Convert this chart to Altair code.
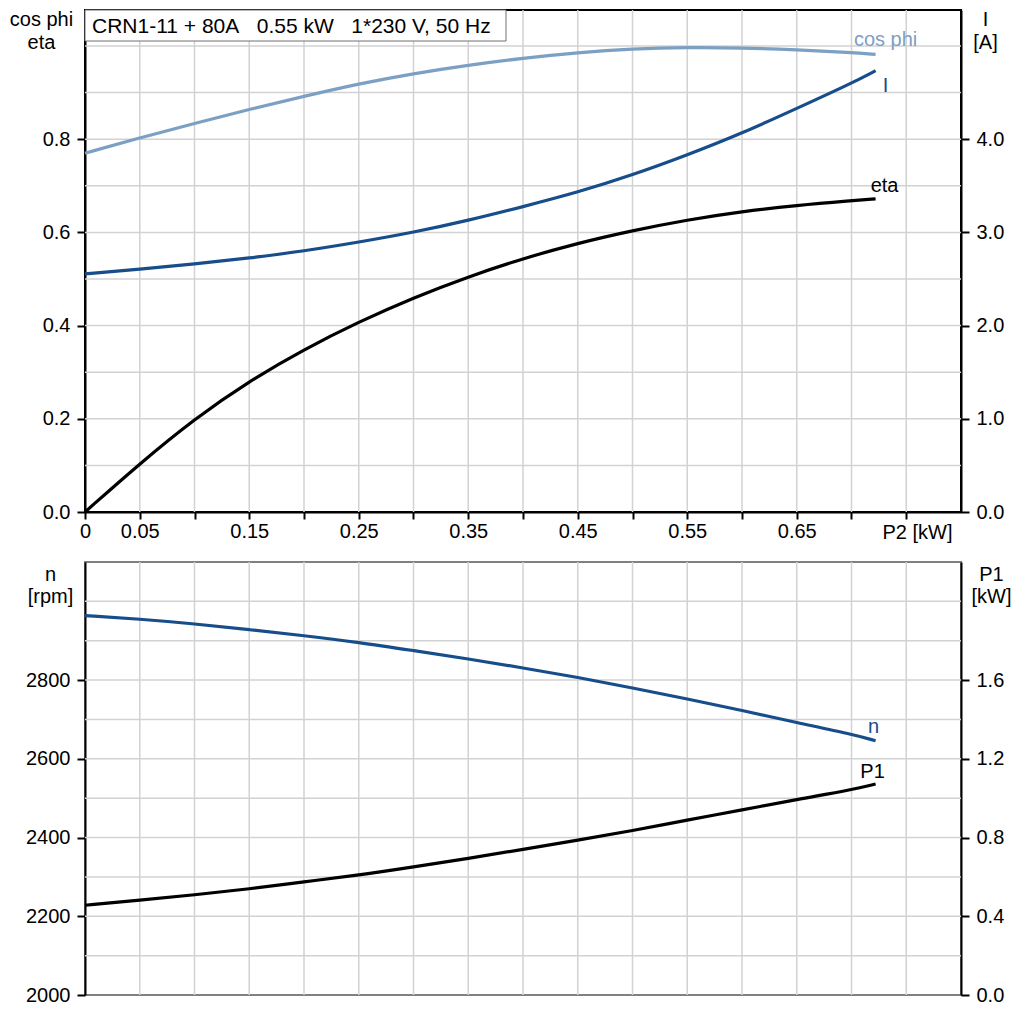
import altair as alt
import pandas as pd

# ---------------- data ----------------
P2 = [0.0, 0.05, 0.10, 0.15, 0.20, 0.25, 0.30, 0.35, 0.40, 0.45, 0.50, 0.55, 0.60, 0.65, 0.70, 0.722]
COS_PHI = [0.770, 0.803, 0.834, 0.864, 0.892, 0.919, 0.941, 0.959, 0.974, 0.986, 0.994, 0.997, 0.996, 0.992, 0.986, 0.982]
ETA = [0.000, 0.104, 0.200, 0.281, 0.349, 0.408, 0.460, 0.505, 0.544, 0.577, 0.604, 0.627, 0.645, 0.658, 0.668, 0.672]
I_A = [2.554, 2.604, 2.660, 2.725, 2.800, 2.895, 3.000, 3.128, 3.276, 3.430, 3.616, 3.830, 4.063, 4.330, 4.600, 4.735]
N_RPM = [2964, 2955, 2943, 2928, 2913, 2896, 2875, 2854, 2831, 2807, 2780, 2752, 2723, 2692, 2663, 2646]
P1_KW = [0.456, 0.482, 0.509, 0.539, 0.575, 0.609, 0.651, 0.694, 0.740, 0.787, 0.835, 0.889, 0.940, 0.994, 1.042, 1.072]

X_TICKS = [0.0, 0.05, 0.10, 0.15, 0.20, 0.25, 0.30, 0.35, 0.40, 0.45, 0.50, 0.55, 0.60, 0.65, 0.70, 0.75]
X_LABELS = ["0.05", "0.15", "0.25", "0.35", "0.45", "0.55", "0.65"]
GRID_X = [0.05, 0.10, 0.15, 0.20, 0.25, 0.30, 0.35, 0.40, 0.45, 0.50, 0.55, 0.60, 0.65, 0.70, 0.75]
LEFT_TOP_TICKS = [0.0, 0.2, 0.4, 0.6, 0.8]
RIGHT_TOP_TICKS = [0.0, 1.0, 2.0, 3.0, 4.0]
GRID_TOP = [0.1, 0.2, 0.3, 0.4, 0.5, 0.6, 0.7, 0.8, 0.9, 1.0]
LEFT_BOT_TICKS = [2000, 2200, 2400, 2600, 2800]
RIGHT_BOT_TICKS = [0.0, 0.4, 0.8, 1.2, 1.6]
GRID_BOT = [2100, 2200, 2300, 2400, 2500, 2600, 2700, 2800, 2900, 3000]
TITLE = "CRN1-11 + 80A\u00a0\u00a0\u00a00.55 kW\u00a0\u00a0\u00a01*230 V, 50 Hz"

# ---------------- styles ----------------
FONT = "Liberation Sans"
FS = 20
BLUE = "#164d8a"
LIGHT = "#7ca0c4"
GRIDC = "#d2d2d2"
W = 876
H_TOP = 502
H_BOT = 433
TOP_MAX = 502 / 466.0
BOT_MAX = 3100

AX = dict(labelFont=FONT, labelFontSize=FS, labelColor="black",
          titleFont=FONT, titleFontSize=FS, titleFontWeight="normal", titleColor="black",
          domainColor="black", domainWidth=2, tickColor="black", tickWidth=2,
          grid=False, labelOverlap=False, labelFlush=False)

lab_expr = ("datum.value == 0 ? '0' : (indexof(" + str(X_LABELS).replace('"', "'") +
            ", format(datum.value, '.2f')) >= 0 ? format(datum.value, '.2f') : '')")

x_scale = alt.Scale(domain=[0, 0.8], nice=False, zero=False)
x_axis_top = alt.Axis(values=X_TICKS, labelExpr=lab_expr, tickSize=7, labelPadding=18,
                      labelBaseline="alphabetic", labelAlign="center",
                      title="P2 [kW]", titleX=832, titleY=26, titleAlign="center",
                      titleBaseline="alphabetic", titleAngle=0, **AX)

top_df = pd.DataFrame({"P2": P2, "cos": COS_PHI, "eta": ETA, "I": I_A})
bot_df = pd.DataFrame({"P2": P2, "n": N_RPM, "P1": P1_KW})
gx_df = pd.DataFrame({"gx": GRID_X})
gt_df = pd.DataFrame({"gy": GRID_TOP})
gb_df = pd.DataFrame({"gy": GRID_BOT})
end_top = top_df.tail(1)
end_bot = bot_df.tail(1)
title_df = pd.DataFrame({"t": [TITLE]})

yl_scale = alt.Scale(domain=[0, TOP_MAX], nice=False, zero=False)
yr_scale = alt.Scale(domain=[0, TOP_MAX * 5], nice=False, zero=False)

yl_axis = alt.Axis(orient="left", values=LEFT_TOP_TICKS, format=".1f", tickSize=8, labelPadding=7,
                   title=["cos phi", "eta"], titleAngle=0, titleAlign="center",
                   titleBaseline="alphabetic", titleX=-44, titleY=15, titleLineHeight=23, **AX)
yr_axis = alt.Axis(orient="right", values=RIGHT_TOP_TICKS, format=".1f", tickSize=8, labelPadding=7,
                   title=["I", "[A]"], titleAngle=0, titleAlign="center",
                   titleBaseline="alphabetic", titleX=24, titleY=15, titleLineHeight=23, **AX)

def xe(field):
    return alt.X(field, type="quantitative", scale=x_scale, axis=x_axis_top)

base_top = alt.Chart(top_df)
LINE = dict(strokeWidth=3.2, interpolate="basis")

grid_v = alt.Chart(gx_df).mark_rule(color=GRIDC, strokeWidth=1.5).encode(x=xe("gx"))
grid_h = alt.Chart(gt_df).mark_rule(color=GRIDC, strokeWidth=1.5).encode(
    y=alt.Y("gy:Q", scale=yl_scale, axis=yl_axis))
cos_line = base_top.mark_line(color=LIGHT, **LINE).encode(
    x=xe("P2"), y=alt.Y("cos:Q", scale=yl_scale, axis=yl_axis))
eta_line = base_top.mark_line(color="black", **LINE).encode(
    x=xe("P2"), y=alt.Y("eta:Q", scale=yl_scale, axis=yl_axis))
cos_txt = alt.Chart(end_top).mark_text(font=FONT, fontSize=FS, color=LIGHT, dx=10, dy=-8,
                                       baseline="alphabetic", align="center").encode(
    x=xe("P2"), y=alt.Y("cos:Q", scale=yl_scale, axis=yl_axis), text=alt.value("cos phi"))
eta_txt = alt.Chart(end_top).mark_text(font=FONT, fontSize=FS, color="black", dx=9, dy=-7,
                                       baseline="alphabetic", align="center").encode(
    x=xe("P2"), y=alt.Y("eta:Q", scale=yl_scale, axis=yl_axis), text=alt.value("eta"))
box = alt.Chart(title_df).mark_rect(fill="white", stroke="#707070", strokeWidth=1).encode(
    x=alt.value(0), x2=alt.value(421), y=alt.value(0), y2=alt.value(31))
box_txt = alt.Chart(title_df).mark_text(font=FONT, fontSize=21, color="black", align="left",
                                        baseline="alphabetic").encode(
    x=alt.value(7), y=alt.value(23), text="t:N")

left_top = alt.layer(grid_v, grid_h, cos_line, eta_line, cos_txt, eta_txt, box, box_txt)

i_line = base_top.mark_line(color=BLUE, **LINE).encode(
    x=xe("P2"), y=alt.Y("I:Q", scale=yr_scale, axis=yr_axis))
i_txt = alt.Chart(end_top).mark_text(font=FONT, fontSize=FS, color=BLUE, dx=10, dy=21,
                                     baseline="alphabetic", align="center").encode(
    x=xe("P2"), y=alt.Y("I:Q", scale=yr_scale, axis=yr_axis), text=alt.value("I"))
right_top = alt.layer(i_line, i_txt)

top = alt.layer(left_top, right_top).resolve_scale(y="independent").properties(
    width=W, height=H_TOP, view=alt.ViewBackground(stroke="black", strokeWidth=2))

# ---------------- bottom panel ----------------
nl_scale = alt.Scale(domain=[2000, BOT_MAX], nice=False, zero=False)
pr_scale = alt.Scale(domain=[0, (BOT_MAX - 2000) / 500], nice=False, zero=False)
nl_axis = alt.Axis(orient="left", values=LEFT_BOT_TICKS, format="d", tickSize=8, labelPadding=7,
                   title=["n", "[rpm]"], titleAngle=0, titleAlign="center",
                   titleBaseline="alphabetic", titleX=-35, titleY=18, titleLineHeight=22, **AX)
pr_axis = alt.Axis(orient="right", values=RIGHT_BOT_TICKS, format=".1f", tickSize=8, labelPadding=7,
                   title=["P1", "[kW]"], titleAngle=0, titleAlign="center",
                   titleBaseline="alphabetic", titleX=30, titleY=18, titleLineHeight=22, **AX)

def xb(field):
    return alt.X(field, type="quantitative", scale=x_scale, axis=None)

base_bot = alt.Chart(bot_df)
bgrid_v = alt.Chart(gx_df).mark_rule(color=GRIDC, strokeWidth=1.5).encode(x=xb("gx"))
bgrid_h = alt.Chart(gb_df).mark_rule(color=GRIDC, strokeWidth=1.5).encode(
    y=alt.Y("gy:Q", scale=nl_scale, axis=nl_axis))
n_line = base_bot.mark_line(color=BLUE, **LINE).encode(
    x=xb("P2"), y=alt.Y("n:Q", scale=nl_scale, axis=nl_axis))
n_txt = alt.Chart(end_bot).mark_text(font=FONT, fontSize=FS, color=BLUE, dx=-2, dy=-8,
                                     baseline="alphabetic", align="center").encode(
    x=xb("P2"), y=alt.Y("n:Q", scale=nl_scale, axis=nl_axis), text=alt.value("n"))
left_bot = alt.layer(bgrid_v, bgrid_h, n_line, n_txt)

p1_line = base_bot.mark_line(color="black", **LINE).encode(
    x=xb("P2"), y=alt.Y("P1:Q", scale=pr_scale, axis=pr_axis))
p1_txt = alt.Chart(end_bot).mark_text(font=FONT, fontSize=FS, color="black", dx=-3, dy=-6,
                                      baseline="alphabetic", align="center").encode(
    x=xb("P2"), y=alt.Y("P1:Q", scale=pr_scale, axis=pr_axis), text=alt.value("P1"))
right_bot = alt.layer(p1_line, p1_txt)

bottom = alt.layer(left_bot, right_bot).resolve_scale(y="independent").properties(
    width=W, height=H_BOT, view=alt.ViewBackground(stroke="#808080", strokeWidth=2))

chart = alt.vconcat(top, bottom, spacing=50, bounds="flush").properties(
    padding={"left": 0, "top": 0, "right": 0, "bottom": 0},
    background="white")

chart.save("out.html", embed_options={"renderer": "svg", "actions": False})
